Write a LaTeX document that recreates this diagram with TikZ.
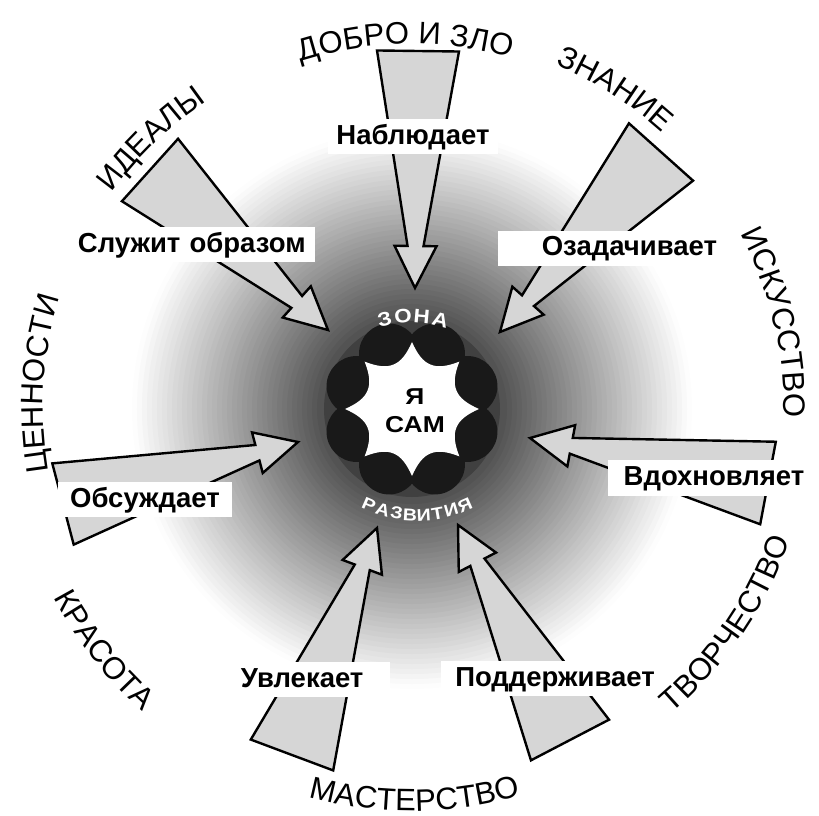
\documentclass[tikz,border=0pt]{standalone}
\usepackage{fontspec}
\setmainfont{Liberation Sans}
\newfontfamily\widefamily[FakeStretch=1.15]{Liberation Sans}
\usetikzlibrary{calc,decorations.text}

\newcommand{\boxfont}{\fontsize{27.5}{32}\selectfont\bfseries}
\newcommand{\ringfont}{\fontsize{31}{36}\selectfont}
\newcommand{\zonefont}{\widefamily\fontsize{19.5}{22}\selectfont\bfseries}

% wedge arrow: name prefix, half width at the base
\newcommand{\wedgearrow}[2]{%
  \coordinate (#1-neck) at ($(#1-tip)!42pt!(#1-base)$);
  \filldraw[wedge] ($(#1-base)!#2pt!90:(#1-tip)$)
    -- ($(#1-neck)!8pt!90:(#1-tip)$) -- ($(#1-neck)!21pt!90:(#1-tip)$)
    -- (#1-tip)
    -- ($(#1-neck)!21pt!-90:(#1-tip)$) -- ($(#1-neck)!8pt!-90:(#1-tip)$)
    -- ($(#1-base)!#2pt!-90:(#1-tip)$) -- cycle;
}

\tikzset{
  wedge/.style={fill=black!16, draw=black, line width=2.4pt, line join=miter},
  labelbox/.style={fill=white, inner xsep=8pt, inner ysep=0pt, minimum height=35pt,
    text height=20pt, text depth=5pt, font=\boxfont},
  zoneletter/.style={text=white, font=\zonefont, inner sep=0pt},
  ringtext/.style={decorate, decoration={text along path, text align=center,
    text={|\ringfont|#1}}},
}

\begin{document}
\begin{tikzpicture}[x=1pt, y=1pt]
  \useasboundingbox (-412,-407) rectangle (407,409);

  % zone of development
  \foreach \r in {280,275,...,95}{
    \pgfmathsetmacro{\shade}{0.36*(282-\r)}
    \fill[black!\shade] (0,0) circle[radius=\r pt];
  }
  \fill[black!75] (0,0) circle[radius=88pt];
  \foreach \a in {22.5,67.5,...,337.5}
    \fill[black!90] (\a:60pt) circle[radius=30pt];
  \fill[white] (0:67pt) \foreach \a in {0,45,...,315}{
    .. controls (\a+14:44pt) and (\a+31:44pt) .. (\a+45:67pt) } -- cycle;
  \node[font=\widefamily\fontsize{23}{28}\selectfont\bfseries, align=center] (self) at (3,-2) {Я\\САМ};

  \foreach \ch/\ang [count=\i] in {З/104,О/94.5,Н/85,А/75.5}
    \node[zoneletter, rotate=\ang-90] (zona-\i) at ($(0,-20)+(\ang:113pt)$) {\ch};
  \foreach \ch/\ang [count=\i] in {Р/246.4,А/253.4,З/260.2,В/266.7,И/273.3,Т/279.8,И/286.6,Я/293.6}
    \node[zoneletter, font=\widefamily\fontsize{17}{19}\selectfont\bfseries, rotate=\ang-270]
      (razv-\i) at ($(5,14)+(\ang:120pt)$) {\ch};

  % arrows
  \coordinate (observe-base) at (6,358);     \coordinate (observe-tip) at (3,121);
  \coordinate (image-base) at (-262,239);    \coordinate (image-tip) at (-84,79);
  \coordinate (task-base) at (249,257);      \coordinate (task-tip) at (88,77);
  \coordinate (discuss-base) at (-349,-95);  \coordinate (discuss-tip) at (-114,-33);
  \coordinate (inspire-base) at (356,-74);   \coordinate (inspire-tip) at (118,-29);
  \coordinate (enthuse-base) at (-120,-346); \coordinate (enthuse-tip) at (-35,-119);
  \coordinate (support-base) at (158,-331);  \coordinate (support-tip) at (46,-116);
  \wedgearrow{observe}{41}
  \wedgearrow{image}{42}
  \wedgearrow{task}{43}
  \wedgearrow{discuss}{42}
  \wedgearrow{inspire}{42}
  \wedgearrow{enthuse}{44}
  \wedgearrow{support}{44}

  \node[labelbox] (observe-lbl) at (1,272) {Наблюдает};
  \node[labelbox, text width=229pt, align=left] (image-lbl) at (-219.5,164) {Служит образом};
  \node[labelbox, text width=211pt, align=right] (task-lbl) at (199.5,160.5) {Озадачивает};
  \node[labelbox, inner xsep=12pt] (discuss-lbl) at (-267,-90.5) {Обсуждает};
  \node[labelbox, inner xsep=16pt] (inspire-lbl) at (302,-69) {Вдохновляет};
  \node[labelbox, text width=141pt, align=left] (enthuse-lbl) at (-100.5,-270.5) {Увлекает};
  \node[labelbox, inner xsep=14pt] (support-lbl) at (143,-269.5) {Поддерживает};

  % spheres round the circle
  \path[ringtext=ДОБРО И ЗЛО] (131:365pt) arc[start angle=131, end angle=51, radius=365pt];
  \path[ringtext=ЗНАНИЕ] (97.6:373pt) arc[start angle=97.6, end angle=17.6, radius=373pt];
  \path[ringtext=ИСКУССТВО] (53.4:372pt) arc[start angle=53.4, end angle=-26.6, radius=372pt];
  \path[ringtext=ЦЕННОСТИ] (216.1:369pt) arc[start angle=216.1, end angle=136.1, radius=369pt];
  \path[ringtext=ИДЕАЛЫ] (174:370pt) arc[start angle=174, end angle=94, radius=370pt];
  \path[ringtext=ТВОРЧЕСТВО] (-74.3:400pt) arc[start angle=-74.3, end angle=5.7, radius=400pt];
  \path[ringtext=МАСТЕРСТВО] (-129.6:402pt) arc[start angle=-129.6, end angle=-49.6, radius=402pt];
  \path[ringtext=КРАСОТА] (-181.9:405pt) arc[start angle=-181.9, end angle=-101.9, radius=405pt];
\end{tikzpicture}
\end{document}
